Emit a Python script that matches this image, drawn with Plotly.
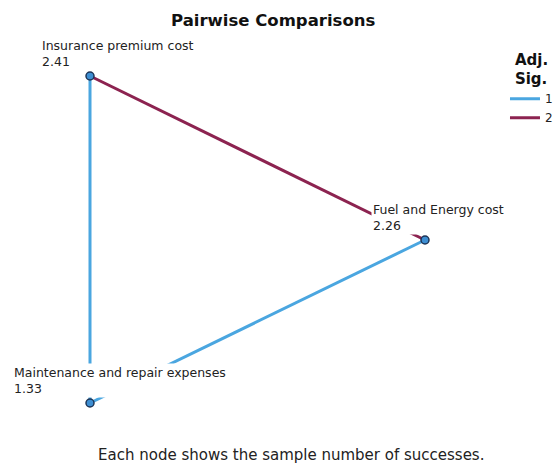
import plotly.graph_objects as go

# ---- data ----
nodes = ["Insurance premium cost", "Fuel and Energy cost", "Maintenance and repair expenses"]
mean_ranks = [2.41, 2.26, 1.33]
edge_from = [0, 0, 1]
edge_to = [2, 1, 2]
edge_sig = ["1", "2", "1"]
sig_groups = ["1", "2"]
title_text = "Pairwise Comparisons"
footer_text = "Each node shows the sample number of successes."
legend_title = "Adj.<br>Sig."

# ---- layout of the network (canvas units) ----
node_x = [90, 425, 90]
node_y = [76, 240, 403]
label_dx = [-50, -54, -78]
label_dy = [-23, -23, -23]

sig_colors = {"1": "#4aa6e0", "2": "#8c2350"}
FONT = "DejaVu Sans"

fig = go.Figure()

for g in sig_groups:
    xs, ys = [], []
    for a, b, s in zip(edge_from, edge_to, edge_sig):
        if s == g:
            xs += [node_x[a], node_x[b], None]
            ys += [node_y[a], node_y[b], None]
    fig.add_trace(go.Scatter(x=xs, y=ys, mode="lines", name=g,
                             line=dict(color=sig_colors[g], width=3),
                             hoverinfo="skip"))

fig.add_trace(go.Scatter(x=node_x, y=node_y, mode="markers", showlegend=False,
                         marker=dict(size=8, color="#3d8ed2",
                                     line=dict(color="#1d3557", width=1.5)),
                         text=nodes, hoverinfo="text"))

annotations = []
for i, n in enumerate(nodes):
    annotations.append(dict(x=node_x[i] + label_dx[i], y=node_y[i] + label_dy[i],
                            xref="x", yref="y",
                            text=f"{n}<br>{mean_ranks[i]:.2f}", align="left",
                            showarrow=False, xanchor="left", yanchor="middle",
                            bgcolor="white", borderpad=1,
                            font=dict(family=FONT, size=12.5, color="#222")))

annotations.append(dict(x=273, y=20, xref="x", yref="y", text=f"<b>{title_text}</b>",
                        showarrow=False, xanchor="center", yanchor="middle",
                        font=dict(family=FONT, size=16.5, color="#111")))
annotations.append(dict(x=291, y=455, xref="x", yref="y", text=footer_text,
                        showarrow=False, xanchor="center", yanchor="middle",
                        font=dict(family=FONT, size=15, color="#222")))

fig.update_layout(
    width=558, height=466,
    margin=dict(l=0, r=0, t=0, b=0),
    paper_bgcolor="white", plot_bgcolor="white",
    xaxis=dict(range=[0, 558], visible=False, fixedrange=True),
    yaxis=dict(range=[466, 0], visible=False, fixedrange=True),
    annotations=annotations,
    showlegend=True,
    legend=dict(title=dict(text=f"<b>{legend_title}</b>", side="top center",
                           font=dict(family=FONT, size=15, color="#111")),
                x=0.905, y=0.903, xanchor="left", yanchor="top",
                font=dict(family=FONT, size=12, color="#222"),
                bgcolor="rgba(0,0,0,0)", itemwidth=30, tracegroupgap=0),
)

fig.write_html("out.html", config={"displayModeBar": False},
               post_script="document.body.style.margin='0';")
